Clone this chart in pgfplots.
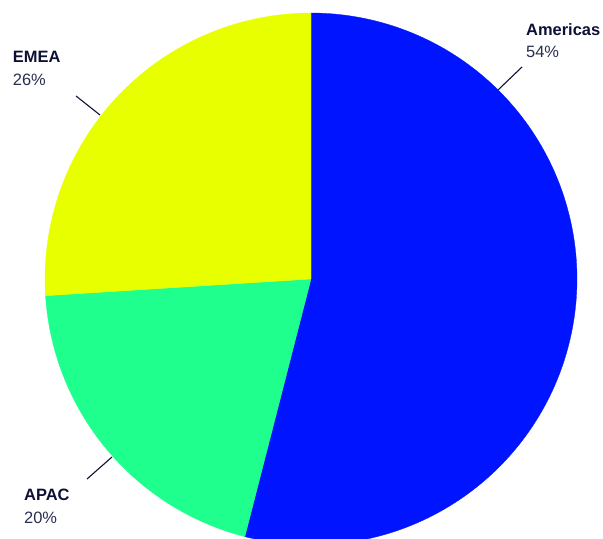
\documentclass[border=0pt]{standalone}
\usepackage{pgfplots}
\pgfplotsset{compat=1.18}
\usepackage{pgfplotstable}
\usepackage{fontspec}
\setmainfont{Liberation Sans}
\definecolor{cAm}{HTML}{0014FF}
\definecolor{cAp}{HTML}{1EFF8E}
\definecolor{cEm}{HTML}{E8FF00}
\definecolor{navy}{HTML}{0D1035}
\definecolor{navyl}{HTML}{2A2D4F}
\pgfplotstableread{
region share
Americas 54
APAC 20
EMEA 26
}\sharetable
\begin{document}%
\begin{tikzpicture}
\pgfplotstablegetelem{0}{share}\of\sharetable\let\sA\pgfplotsretval
\pgfplotstablegetelem{1}{share}\of\sharetable\let\sB\pgfplotsretval
\pgfplotstablegetelem{2}{share}\of\sharetable\let\sC\pgfplotsretval
\pgfmathsetmacro{\aZero}{90}
\pgfmathsetmacro{\aOne}{90-3.6*\sA}
\pgfmathsetmacro{\aTwo}{\aOne-3.6*\sB}
\pgfmathsetmacro{\aThree}{\aTwo-3.6*\sC}
\begin{axis}[width=603bp,height=539bp,scale only axis,
  xmin=0,xmax=603,ymin=0,ymax=539,hide axis,clip=true,
  clip bounding box=upper bound]
\addplot[draw=none,forget plot] coordinates {(0,0) (603,539)};
\addplot[fill=cAm,draw=cAm,line width=0.3pt,domain=\aOne:\aZero,samples=150,variable=\t]
  ({311+266*cos(t)},{260+266*sin(t)}) -- (axis cs:311,260) -- cycle;
\addplot[fill=cAp,draw=cAp,line width=0.3pt,domain=\aTwo:\aOne,samples=80,variable=\t]
  ({311+266*cos(t)},{260+266*sin(t)}) -- (axis cs:311,260) -- cycle;
\addplot[fill=cEm,draw=cEm,line width=0.3pt,domain=\aThree:\aTwo,samples=100,variable=\t]
  ({311+266*cos(t)},{260+266*sin(t)}) -- (axis cs:311,260) -- cycle;
\addplot[draw=navy,line width=1.1pt] coordinates {(498,449) (522,472)};
\addplot[draw=navy,line width=1.1pt] coordinates {(76,443) (100,424)};
\addplot[draw=navy,line width=1.1pt] coordinates {(87,60) (112,82)};
\node[anchor=base west,inner sep=0pt,text=navy,font=\fontsize{16.5}{19}\selectfont\bfseries] at (axis cs:526,503) {Americas};
\node[anchor=base west,inner sep=0pt,text=navyl,font=\fontsize{16.5}{19}\selectfont] at (axis cs:526,481) {54\%};
\node[anchor=base west,inner sep=0pt,text=navy,font=\fontsize{16.5}{19}\selectfont\bfseries] at (axis cs:12.7,476.3) {EMEA};
\node[anchor=base west,inner sep=0pt,text=navyl,font=\fontsize{16.5}{19}\selectfont] at (axis cs:12.7,453.3) {26\%};
\node[anchor=base west,inner sep=0pt,text=navy,font=\fontsize{16.5}{19}\selectfont\bfseries] at (axis cs:24,38.3) {APAC};
\node[anchor=base west,inner sep=0pt,text=navyl,font=\fontsize{16.5}{19}\selectfont] at (axis cs:24,15) {20\%};
\end{axis}
\end{tikzpicture}%
\end{document}
